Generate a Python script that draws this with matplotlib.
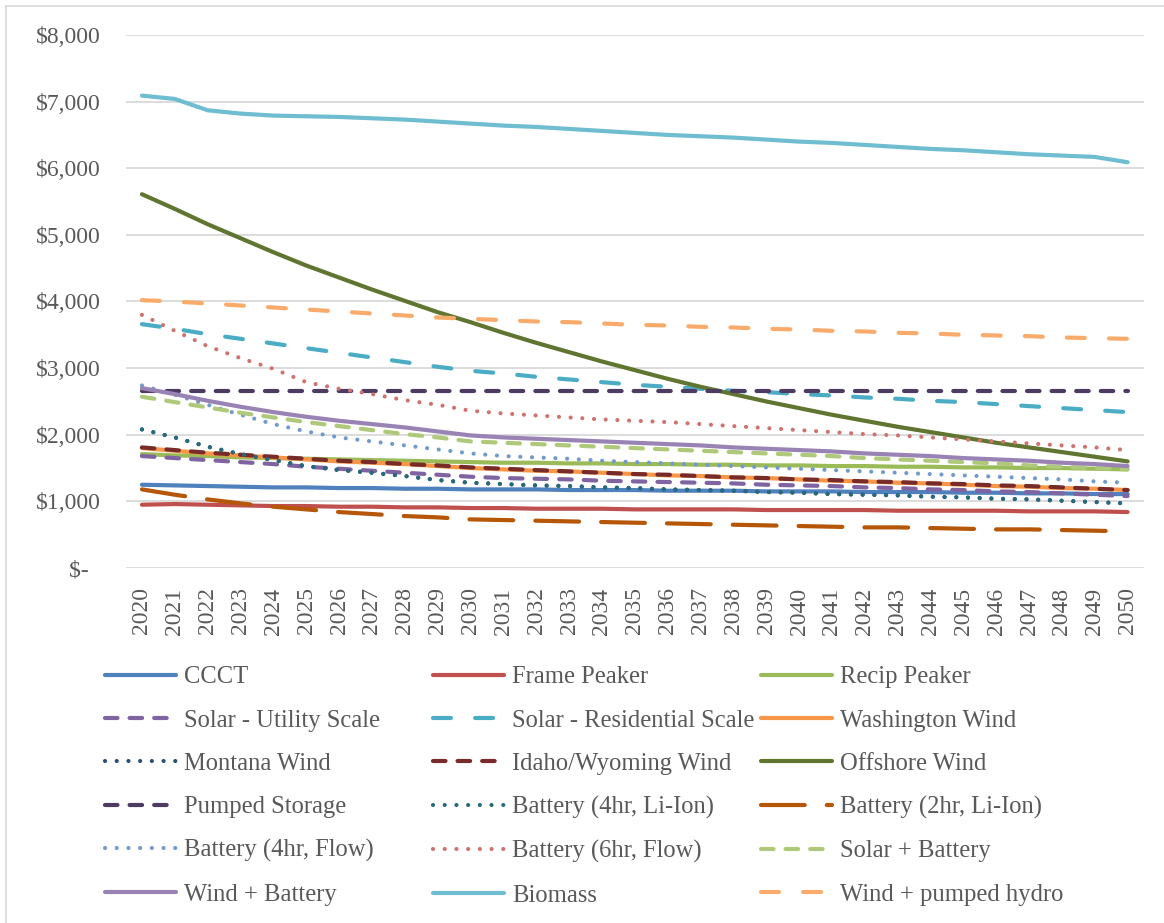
import numpy as np
import matplotlib.pyplot as plt
from matplotlib.lines import Line2D
from matplotlib.ticker import FuncFormatter

plt.rcParams['font.family'] = ['Liberation Serif', 'DejaVu Serif']

years = list(range(2020, 2051))

ccct = [1250, 1240, 1230, 1220, 1210, 1210, 1200, 1200, 1190, 1190, 1180, 1180, 1180, 1170, 1170, 1170,
        1160, 1160, 1160, 1150, 1150, 1150, 1140, 1140, 1140, 1130, 1130, 1120, 1120, 1110, 1110]
frame_peaker = [950, 960, 950, 940, 930, 930, 920, 920, 910, 910, 900, 900, 890, 890, 890, 880,
                880, 880, 880, 870, 870, 870, 870, 860, 860, 860, 860, 850, 850, 850, 840]
recip_peaker = [1710, 1690, 1680, 1660, 1650, 1640, 1630, 1620, 1610, 1600, 1590, 1580, 1580, 1570, 1570, 1560,
                1560, 1550, 1550, 1540, 1540, 1530, 1530, 1520, 1520, 1510, 1510, 1500, 1500, 1490, 1480]
solar_utility = [1680, 1650, 1620, 1590, 1560, 1520, 1490, 1460, 1430, 1400, 1370, 1350, 1340, 1330, 1310, 1300,
                 1290, 1280, 1270, 1250, 1240, 1230, 1210, 1200, 1180, 1170, 1150, 1140, 1120, 1100, 1080]
solar_residential = [3660, 3590, 3510, 3440, 3370, 3300, 3230, 3160, 3090, 3020, 2960, 2920, 2870, 2830, 2790, 2750,
                     2720, 2690, 2660, 2640, 2610, 2590, 2560, 2540, 2510, 2490, 2460, 2430, 2400, 2370, 2340]
washington_wind = [1800, 1760, 1720, 1690, 1660, 1630, 1600, 1580, 1560, 1530, 1500, 1480, 1460, 1450, 1430, 1410,
                   1390, 1380, 1360, 1350, 1330, 1310, 1300, 1280, 1270, 1250, 1230, 1220, 1200, 1190, 1170]
montana_wind = [2080, 1960, 1820, 1710, 1620, 1530, 1470, 1430, 1380, 1320, 1280, 1260, 1240, 1230, 1210, 1200,
                1180, 1170, 1160, 1140, 1130, 1110, 1100, 1090, 1070, 1060, 1040, 1030, 1010, 990, 970]
idaho_wyoming_wind = [1810, 1770, 1730, 1700, 1670, 1640, 1610, 1590, 1560, 1540, 1510, 1490, 1470, 1450, 1430, 1410,
                      1400, 1380, 1360, 1350, 1330, 1320, 1300, 1290, 1270, 1260, 1240, 1230, 1210, 1190, 1170]
offshore_wind = [5610, 5390, 5160, 4950, 4740, 4540, 4360, 4180, 4010, 3840, 3690, 3530, 3380, 3240, 3100, 2970,
                 2840, 2720, 2610, 2500, 2400, 2300, 2210, 2120, 2040, 1960, 1880, 1810, 1740, 1670, 1600]
pumped_storage = [2660] * 31
battery_4hr_li = [2080, 1960, 1820, 1710, 1620, 1530, 1470, 1430, 1380, 1320, 1280, 1260, 1240, 1230, 1210, 1200,
                  1180, 1170, 1160, 1140, 1130, 1110, 1100, 1090, 1070, 1060, 1040, 1030, 1010, 990, 970]
battery_2hr_li = [1180, 1100, 1030, 970, 920, 880, 840, 810, 780, 760, 730, 720, 710, 700, 690, 680,
                  670, 660, 650, 640, 630, 620, 610, 610, 600, 590, 580, 580, 570, 560, 550]
battery_4hr_flow = [2740, 2600, 2450, 2300, 2160, 2050, 1960, 1900, 1840, 1780, 1720, 1680, 1660, 1640, 1610, 1590,
                    1570, 1550, 1530, 1510, 1490, 1470, 1450, 1430, 1410, 1390, 1370, 1350, 1330, 1300, 1280]
battery_6hr_flow = [3800, 3560, 3330, 3150, 2990, 2790, 2690, 2610, 2520, 2450, 2360, 2320, 2290, 2260, 2230, 2210,
                    2190, 2160, 2130, 2100, 2070, 2040, 2010, 1990, 1960, 1930, 1900, 1870, 1840, 1810, 1770]
solar_battery = [2570, 2490, 2410, 2330, 2260, 2190, 2130, 2070, 2010, 1960, 1900, 1880, 1860, 1840, 1820, 1800,
                 1780, 1760, 1740, 1720, 1700, 1680, 1650, 1630, 1610, 1590, 1570, 1540, 1520, 1500, 1480]
wind_battery = [2700, 2610, 2510, 2420, 2340, 2270, 2210, 2160, 2110, 2050, 1990, 1960, 1940, 1920, 1900, 1880,
                1860, 1840, 1810, 1790, 1770, 1750, 1720, 1700, 1680, 1650, 1630, 1610, 1580, 1560, 1530]
biomass = [7090, 7040, 6870, 6820, 6790, 6780, 6770, 6750, 6730, 6700, 6670, 6640, 6620, 6590, 6560, 6530,
           6500, 6480, 6460, 6430, 6400, 6380, 6350, 6320, 6290, 6270, 6240, 6210, 6190, 6170, 6090]
wind_pumped_hydro = [4020, 4000, 3970, 3940, 3910, 3880, 3850, 3820, 3790, 3760, 3740, 3720, 3700, 3690, 3670, 3650,
                     3640, 3620, 3610, 3590, 3580, 3560, 3550, 3530, 3520, 3500, 3490, 3480, 3460, 3450, 3440]

solid = '-'
dash = (0, (3.0, 2.9))
longdash = (0, (4.3, 5.8))
longdash2 = (0, (10.5, 5.3))
dot = (0, (0.01, 2.8))

series = [
    ('CCCT', ccct, '#4F81BD', solid),
    ('Frame Peaker', frame_peaker, '#C0504D', solid),
    ('Recip Peaker', recip_peaker, '#9BBB59', solid),
    ('Solar - Utility Scale', solar_utility, '#8064A2', dash),
    ('Solar - Residential Scale', solar_residential, '#4BACC6', longdash),
    ('Washington Wind', washington_wind, '#F79646', solid),
    ('Montana Wind', montana_wind, '#2C4D75', dot),
    ('Idaho/Wyoming Wind', idaho_wyoming_wind, '#772C2A', dash),
    ('Offshore Wind', offshore_wind, '#5F7530', solid),
    ('Pumped Storage', pumped_storage, '#4D3B62', dash),
    ('Battery (4hr, Li-Ion)', battery_4hr_li, '#276A7C', dot),
    ('Battery (2hr, Li-Ion)', battery_2hr_li, '#B65708', longdash2),
    ('Battery (4hr, Flow)', battery_4hr_flow, '#729ACA', dot),
    ('Battery (6hr, Flow)', battery_6hr_flow, '#CD7371', dot),
    ('Solar + Battery', solar_battery, '#AFC97A', dash),
    ('Wind + Battery', wind_battery, '#9983B5', solid),
    ('Biomass', biomass, '#6FBDD1', solid),
    ('Wind + pumped hydro', wind_pumped_hydro, '#F9AB6B', longdash),
]

fig = plt.figure(figsize=(11.64, 9.23), dpi=100)
ax = fig.add_axes([125.5 / 1164, 0.3846, 1018.5 / 1164, 0.5775])

x = np.arange(len(years))
handles = []
for name, vals, color, ls in series:
    h, = ax.plot(x, vals, color=color, linestyle=ls, lw=3.0, label=name,
                 solid_capstyle='round', dash_capstyle='round')
    handles.append(h)


def money(v, p):
    if v == 0:
        return '$-\u2007'
    return '${:,.0f}'.format(v)


ax.set_xlim(-0.5, len(years) - 0.5)
ax.set_ylim(0, 8000)
ax.set_yticks(range(0, 8001, 1000))
ax.yaxis.set_major_formatter(FuncFormatter(money))
ax.set_xticks(x)
ax.set_xticklabels([str(y) for y in years], rotation=90)
ax.tick_params(axis='both', length=0, labelsize=17, labelcolor='#595959')
ax.tick_params(axis='y', pad=18)
ax.tick_params(axis='x', pad=14)
ax.grid(axis='y', color='#D9D9D9', lw=1.3)
ax.set_axisbelow(True)
for s in ax.spines.values():
    s.set_visible(False)

# legend: three columns placed like the original
col_x = [105 / 1164, 433 / 1164, 761 / 1164]
for c in range(3):
    hs = handles[c::3]
    fig.legend(handles=hs, labels=[h.get_label() for h in hs], loc='upper left',
               bbox_to_anchor=(col_x[c], 1 - 666 / 923), frameon=False, fontsize=17.7,
               handlelength=2.9, handletextpad=0.32, borderpad=0, borderaxespad=0,
               labelspacing=0.86, labelcolor='#595959')

# chart-area border (only top and left edges are visible in the original crop)
fig.add_artist(Line2D([6 / 1164, 1], [1 - 6 / 923, 1 - 6 / 923], transform=fig.transFigure,
                      color='#D9D9D9', lw=1.2))
fig.add_artist(Line2D([6 / 1164, 6 / 1164], [0, 1 - 6 / 923], transform=fig.transFigure,
                      color='#D9D9D9', lw=1.2))

fig.savefig('out.png', dpi=100)
